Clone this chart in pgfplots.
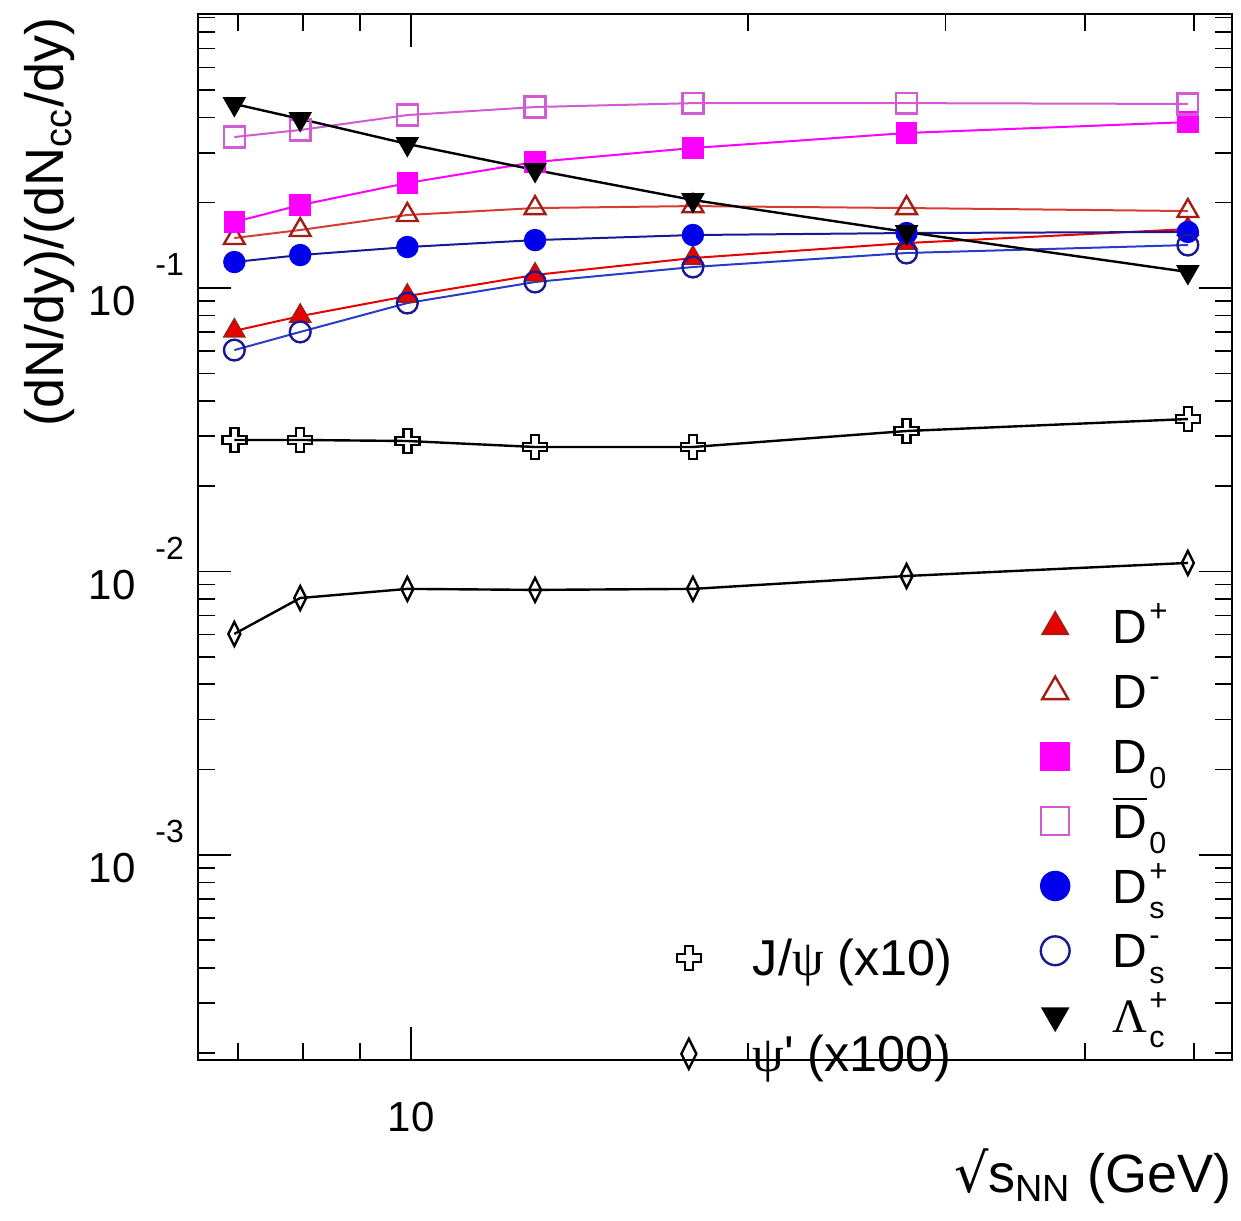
\documentclass[border=0pt]{standalone}
\usepackage{fontspec}
\setmainfont{Liberation Sans}
\newfontfamily\grk{Liberation Serif}
\newfontfamily\djv{DejaVu Sans}
\usepackage{amsmath}
\usepackage{pgfplots}
\pgfplotsset{compat=1.18}

\definecolor{cRed}{RGB}{230,0,0}
\definecolor{cRedD}{RGB}{160,30,20}
\definecolor{cRedL}{RGB}{215,60,50}
\definecolor{cMag}{RGB}{255,0,255}
\definecolor{cMagL}{RGB}{210,90,210}
\definecolor{cBlue}{RGB}{0,0,235}
\definecolor{cBlueD}{RGB}{25,25,150}
\definecolor{cBlueL}{RGB}{40,60,200}

\pgfdeclareplotmark{ocross}{%
 \pgfpathmoveto{\pgfqpoint{-0.33\pgfplotmarksize}{\pgfplotmarksize}}%
 \pgfpathlineto{\pgfqpoint{0.33\pgfplotmarksize}{\pgfplotmarksize}}%
 \pgfpathlineto{\pgfqpoint{0.33\pgfplotmarksize}{0.33\pgfplotmarksize}}%
 \pgfpathlineto{\pgfqpoint{\pgfplotmarksize}{0.33\pgfplotmarksize}}%
 \pgfpathlineto{\pgfqpoint{\pgfplotmarksize}{-0.33\pgfplotmarksize}}%
 \pgfpathlineto{\pgfqpoint{0.33\pgfplotmarksize}{-0.33\pgfplotmarksize}}%
 \pgfpathlineto{\pgfqpoint{0.33\pgfplotmarksize}{-\pgfplotmarksize}}%
 \pgfpathlineto{\pgfqpoint{-0.33\pgfplotmarksize}{-\pgfplotmarksize}}%
 \pgfpathlineto{\pgfqpoint{-0.33\pgfplotmarksize}{-0.33\pgfplotmarksize}}%
 \pgfpathlineto{\pgfqpoint{-\pgfplotmarksize}{-0.33\pgfplotmarksize}}%
 \pgfpathlineto{\pgfqpoint{-\pgfplotmarksize}{0.33\pgfplotmarksize}}%
 \pgfpathlineto{\pgfqpoint{-0.33\pgfplotmarksize}{0.33\pgfplotmarksize}}%
 \pgfpathclose\pgfusepathqstroke}
\pgfdeclareplotmark{ndiamond}{%
 \pgfpathmoveto{\pgfqpoint{0pt}{\pgfplotmarksize}}%
 \pgfpathlineto{\pgfqpoint{0.5\pgfplotmarksize}{0pt}}%
 \pgfpathlineto{\pgfqpoint{0pt}{-\pgfplotmarksize}}%
 \pgfpathlineto{\pgfqpoint{-0.5\pgfplotmarksize}{0pt}}%
 \pgfpathclose\pgfusepathqstroke}

\newcommand\ylab[1]{10\hspace{5pt}\raisebox{10pt}{\fontsize{8}{8}\selectfont #1}}
\newcommand\sups[1]{\raisebox{5.5pt}{\fontsize{7.8}{8}\selectfont #1}}
\newcommand\subs[1]{\raisebox{-3.8pt}{\fontsize{7.6}{8}\selectfont #1}}
\newcommand\supsub[2]{\hspace{0.5pt}\rlap{\sups{#1}}\subs{#2}}

\begin{document}
\begin{tikzpicture}
\begin{axis}[
 at={(0,0)}, anchor=south west,
 scale only axis, width=258.5pt, height=261.5pt,
 xmode=log, ymode=log,
 xmin=6.45, xmax=54.1, ymin=1.89e-4, ymax=0.926,
 xtick={10}, xticklabels={10},
 minor xtick={7,8,9,20,30,40,50},
 ytick={1e-3,1e-2,1e-1},
 yticklabels={\ylab{-3},\ylab{-2},\ylab{-1}},
 minor ytick={2e-4,3e-4,4e-4,5e-4,6e-4,7e-4,8e-4,9e-4,2e-3,3e-3,4e-3,5e-3,6e-3,7e-3,8e-3,9e-3,0.02,0.03,0.04,0.05,0.06,0.07,0.08,0.09,0.2,0.3,0.4,0.5,0.6,0.7,0.8,0.9},
 major tick length=8.3pt, minor tick length=4.2pt,
 tick style={black, line width=0.4pt},
 axis line style={line width=0.7pt},
 ticklabel style={font=\fontsize{10.5}{12}\selectfont},
 xticklabel style={yshift=-7pt},
 yticklabel style={yshift=0.8pt},
 xlabel={{\djv √}s$_{\text{NN}}$ (GeV)},
 xlabel style={at={(axis description cs:1,0)}, anchor=north east, yshift=-22pt, inner sep=0pt, font=\fontsize{13.5}{16}\selectfont},
 ylabel={(dN/dy)/(dN$_{\text{cc}}$/dy)},
 ylabel style={at={(axis description cs:-0.144,0.997)}, anchor=east, inner sep=0pt, font=\fontsize{13.5}{16}\selectfont},
 legend style={draw=none, fill=none, at={(0.4623,0.1149)}, anchor=north west, inner sep=0pt, row sep=15.4pt, column sep=13pt, font=\fontsize{12.6}{14}\selectfont, nodes={inner sep=0pt, text height=8.6pt, text depth=0pt}},
 legend cell align=left,
 legend image code/.code={\draw[#1, only marks] plot coordinates {(0cm,0cm)};},
]
% D+
\addplot[forget plot, cRed, line width=0.5pt, mark=triangle*, mark size=3pt, mark options={solid, fill=cRed, draw=cRedD, line width=0.4pt}] coordinates {
(6.95,0.0706) (7.96,0.0796) (9.92,0.0937) (12.9,0.1112) (17.85,0.1276) (27.7,0.1441) (49.4,0.1614)};
% D-
\addplot[forget plot, cRedL, line width=0.5pt, mark=triangle, mark size=3pt, mark options={solid, draw=cRedD, line width=0.6pt}] coordinates {
(6.95,0.1501) (7.96,0.1602) (9.92,0.1810) (12.9,0.1915) (17.85,0.1946) (27.7,0.1915) (49.4,0.1869)};
% D0
\addplot[forget plot, cMag, line width=0.5pt, mark=square*, mark size=2.5pt, mark options={solid, fill=cMag, draw=cMag, line width=0.4pt}] coordinates {
(6.95,0.171) (7.96,0.1962) (9.92,0.2347) (12.9,0.2783) (17.85,0.3118) (27.7,0.3523) (49.4,0.385)};
% D0bar
\addplot[forget plot, cMagL, line width=0.5pt, mark=square, mark size=2.6pt, mark options={solid, draw=cMagL, line width=0.6pt}] coordinates {
(6.95,0.341) (7.96,0.361) (9.92,0.4075) (12.9,0.435) (17.85,0.449) (27.7,0.449) (49.4,0.446)};
% Ds+
\addplot[forget plot, cBlueD, line width=0.5pt, mark=*, mark size=2.6pt, mark options={solid, fill=cBlue, draw=cBlue, line width=0.4pt}] coordinates {
(6.95,0.1235) (7.96,0.1307) (9.92,0.1395) (12.9,0.1476) (17.85,0.1538) (27.7,0.1563) (49.4,0.1577)};
% Ds-
\addplot[forget plot, cBlueL, line width=0.5pt, mark=o, mark size=2.6pt, mark options={solid, draw=cBlueD, line width=0.6pt}] coordinates {
(6.95,0.0604) (7.96,0.0700) (9.92,0.0885) (12.9,0.1050) (17.85,0.1186) (27.7,0.1329) (49.4,0.1418)};
% Lambda_c
\addplot[forget plot, black, line width=0.6pt, mark=triangle*, mark size=3pt, mark options={solid, rotate=180, fill=black, draw=black, line width=0.4pt}] coordinates {
(6.95,0.446) (7.96,0.395) (9.92,0.3223) (12.9,0.2609) (17.85,0.2044) (27.7,0.1576) (49.4,0.1139)};
% J/psi x10
\addplot[forget plot, black, line width=0.6pt, mark=ocross, mark size=3pt, mark options={solid, draw=black, line width=0.6pt}] coordinates {
(6.95,0.0291) (7.96,0.0291) (9.92,0.02886) (12.9,0.02749) (17.85,0.02749) (27.7,0.0313) (49.4,0.0345)};
% psi' x100
\addplot[forget plot, black, line width=0.6pt, mark=ndiamond, mark size=3pt, mark options={solid, draw=black, line width=0.6pt}] coordinates {
(6.95,0.00602) (7.96,0.00806) (9.92,0.00868) (12.9,0.00861) (17.85,0.00868) (27.7,0.00964) (49.4,0.01072)};

\addlegendimage{only marks, mark=ocross, mark size=3pt, mark options={draw=black, line width=0.6pt}}
\addlegendentry{J/{\grk ψ} (x10)}
\addlegendimage{only marks, mark=ndiamond, mark size=3.75pt, mark options={draw=black, line width=0.6pt}}
\addlegendentry{{\grk ψ}\textquotesingle\ (x100)}
\end{axis}

\begin{axis}[
 at={(0,0)}, anchor=south west,
 scale only axis, width=258.5pt, height=261.5pt,
 hide axis, xmin=0, xmax=1, ymin=0, ymax=1,
 legend style={draw=none, fill=none, at={(0.8143,0.4314)}, anchor=north west, inner sep=0pt, row sep=7.6pt, column sep=10.75pt, font=\fontsize{12}{14}\selectfont, nodes={inner sep=0pt, text height=8.6pt, text depth=0pt}},
 legend cell align=left,
 legend image code/.code={\draw[#1, only marks] plot coordinates {(0cm,0cm)};},
]
\addlegendimage{only marks, mark=triangle*, mark size=3.75pt, mark options={fill=cRed, draw=cRedD, line width=0.4pt}}
\addlegendentry{D\hspace{0.5pt}\sups{+}}
\addlegendimage{only marks, mark=triangle, mark size=3.75pt, mark options={draw=cRedD, line width=0.6pt}}
\addlegendentry{D\hspace{0.5pt}\sups{-}}
\addlegendimage{only marks, mark=square*, mark size=3.5pt, mark options={fill=cMag, draw=cMag, line width=0.4pt}}
\addlegendentry{D\hspace{0.5pt}\subs{0}}
\addlegendimage{only marks, mark=square, mark size=3.5pt, mark options={draw=cMagL, line width=0.6pt}}
\addlegendentry{$\overline{\text{D}}$\hspace{0.5pt}\subs{0}}
\addlegendimage{only marks, mark=*, mark size=3.6pt, mark options={fill=cBlue, draw=cBlue, line width=0.4pt}}
\addlegendentry{D\supsub{+}{s}}
\addlegendimage{only marks, mark=o, mark size=3.6pt, mark options={draw=cBlueD, line width=0.6pt}}
\addlegendentry{D\supsub{-}{s}}
\addlegendimage{only marks, mark=triangle*, mark size=3.75pt, mark options={rotate=180, fill=black, draw=black, line width=0.4pt}}
\addlegendentry{{\grk Λ}\supsub{+}{c}}
\end{axis}
\pgfresetboundingbox
\path[use as bounding box] (-49.5pt,-40pt) rectangle (260.75pt,265pt);
\end{tikzpicture}
\end{document}
